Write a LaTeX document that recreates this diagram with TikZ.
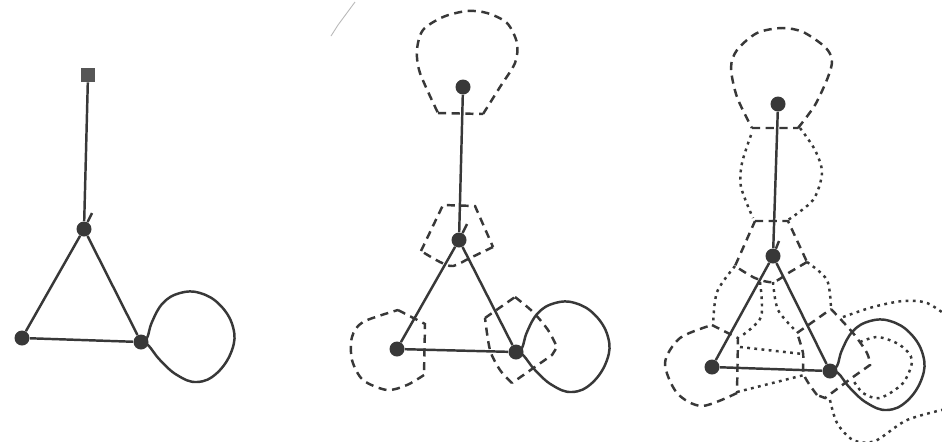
\documentclass[tikz,border=0pt]{standalone}
\usepackage{tikz}
\usetikzlibrary{positioning}

\definecolor{ink}{gray}{0.22}
\tikzset{
    vertex/.style={circle, fill=ink, inner sep=0pt, minimum size=0.3cm},
    rootbox/.style={rectangle, fill=ink!85, inner sep=0pt, minimum size=0.28cm},
    edge/.style={draw=ink, line width=1.4pt},
    dashline/.style={draw=ink, line width=1.4pt, dash pattern=on 4.6pt off 3.2pt},
    dotline/.style={draw=ink, line width=1.4pt, dash pattern=on 1.6pt off 2.5pt}
}

\begin{document}
\begin{tikzpicture}[x=0.02cm, y=-0.02cm]
    \clip (0, 0) rectangle (942, 441);
    \fill[white] (0, 0) rectangle (942, 441);

    % Scan mark
    \draw[gray!55, line width=0.5pt] (331, 36) -- (338, 25) -- (355, 2);

    % Graph, plain
    \node[rootbox] (sA) at (88, 75) {};
    \node[vertex] (tA) at (84, 229) {};
    \node[vertex] (lA) at (22, 338) {};
    \node[vertex] (rA) at (141, 342) {};
    \coordinate (kA) at (92, 213);
    \draw[edge] (sA) -- (tA);
    \draw[edge] (tA) -- (kA);
    \draw[edge] (tA) -- (lA) -- (rA) -- (tA);

    % Graph, thick pieces
    \node[vertex] (sB) at (463, 87) {};
    \node[vertex] (tB) at (459, 240) {};
    \node[vertex] (lB) at (397, 349) {};
    \node[vertex] (rB) at (516, 352) {};
    \coordinate (kB) at (467, 224);
    \draw[edge] (sB) -- (tB);
    \draw[edge] (tB) -- (kB);
    \draw[edge] (tB) -- (lB) -- (rB) -- (tB);

    % Graph, thick pieces and tubes
    \node[vertex] (sC) at (778, 104) {};
    \node[vertex] (tC) at (773, 256) {};
    \node[vertex] (lC) at (712, 367) {};
    \node[vertex] (rC) at (830, 371) {};
    \coordinate (kC) at (779, 241);
    \draw[edge] (sC) -- (tC);
    \draw[edge] (tC) -- (kC);
    \draw[edge] (tC) -- (lC) -- (rC) -- (tC);

    % Loop at the right vertex
    \foreach \nm/\dx/\dy in {rA/0/0, rB/375/10, rC/690/28} {
        \draw[edge, shift={(\dx, \dy)}] plot[smooth, tension=0.7] coordinates {
            (\nm) (147, 338) (152, 322) (163, 303) (180, 293) (200, 293) (220, 305) (233, 327)
            (232, 350) (217, 373) (197, 382) (177, 375) (160, 360) (148, 345) (\nm)};
    }

    % Middle: thick pieces
    \draw[dashline] (438, 113) -- (483, 114) plot[smooth] coordinates {
        (483, 114) (500, 87) (515, 63) (517, 43) (507, 23) (487, 13) (467, 11)
        (443, 17) (423, 30) (417, 50) (420, 73) (438, 113)};
    \draw[dashline] (421, 251) -- (443, 205) -- (475, 206) -- (493, 247)
        plot[smooth] coordinates {(493, 247) (470, 258) (453, 266) (440, 262) (421, 251)};
    \draw[dashline] (398, 310) -- (425, 324) -- (424, 375)
        plot[smooth] coordinates {(424, 375) (407, 385) (387, 390) (363, 380)
        (352, 360) (352, 337) (363, 322) (398, 310)};
    \draw[dashline] (485, 318) -- (515, 297)
        plot[smooth] coordinates {(515, 297) (533, 312) (548, 330) (557, 347)}
        -- (552, 355) -- (512, 383)
        plot[smooth] coordinates {(512, 383) (500, 370) (490, 350) (485, 318)};

    % Right: thick pieces
    \draw[dashline] (752, 128) -- (798, 128) plot[smooth] coordinates {
        (798, 128) (815, 105) (828, 77) (832, 60) (825, 47) (803, 32) (782, 28)
        (757, 33) (737, 50) (731, 68) (737, 97) (752, 128)};
    \draw[dashline] (755, 221) -- (788, 221) -- (807, 262)
        plot[smooth] coordinates {(807, 262) (790, 272) (773, 282) (755, 278) (735, 266)}
        -- (755, 221);
    \draw[dashline] (712, 325) -- (738, 338) -- (737, 393)
        plot[smooth] coordinates {(737, 393) (702, 406) (677, 393) (665, 363) (680, 338) (712, 325)};
    \draw[dashline] (797, 333) -- (831, 309)
        plot[smooth] coordinates {(831, 309) (853, 333) (867, 353) (870, 365)}
        -- (853, 377) -- (825, 398) -- (817, 395)
        plot[smooth] coordinates {(817, 395) (804, 375) (803, 353) (797, 333)};

    % Right: tubes
    \draw[dotline] plot[smooth] coordinates {(751, 135) (742, 163) (741, 187) (753, 218)};
    \draw[dotline] plot[smooth] coordinates {(800, 128) (815, 150) (822, 173) (813, 200) (788, 220)};
    \draw[dotline] plot[smooth] coordinates {(735, 266) (717, 292) (713, 325)};
    \draw[dotline] plot[smooth] coordinates {(807, 262) (827, 280) (831, 309)};
    \draw[dotline] plot[smooth] coordinates {(760, 282) (761, 317) (740, 337)};
    \draw[dotline] plot[smooth] coordinates {(773, 282) (778, 310) (797, 332)};
    \draw[dotline] (740, 347) -- (803, 354);
    \draw[dotline] (737, 392) -- (804, 375);
    \draw[dotline] plot[smooth] coordinates {(860, 342) (878, 337) (900, 345) (912, 360)
        (903, 383) (880, 398) (863, 393) (853, 380)};
    \draw[dotline] plot[smooth] coordinates {(843, 317) (873, 307) (903, 301) (927, 303) (950, 318)};
    \draw[dotline] plot[smooth] coordinates {(830, 400) (837, 423) (853, 440) (875, 441) (907, 420) (950, 408)};
\end{tikzpicture}
\end{document}
